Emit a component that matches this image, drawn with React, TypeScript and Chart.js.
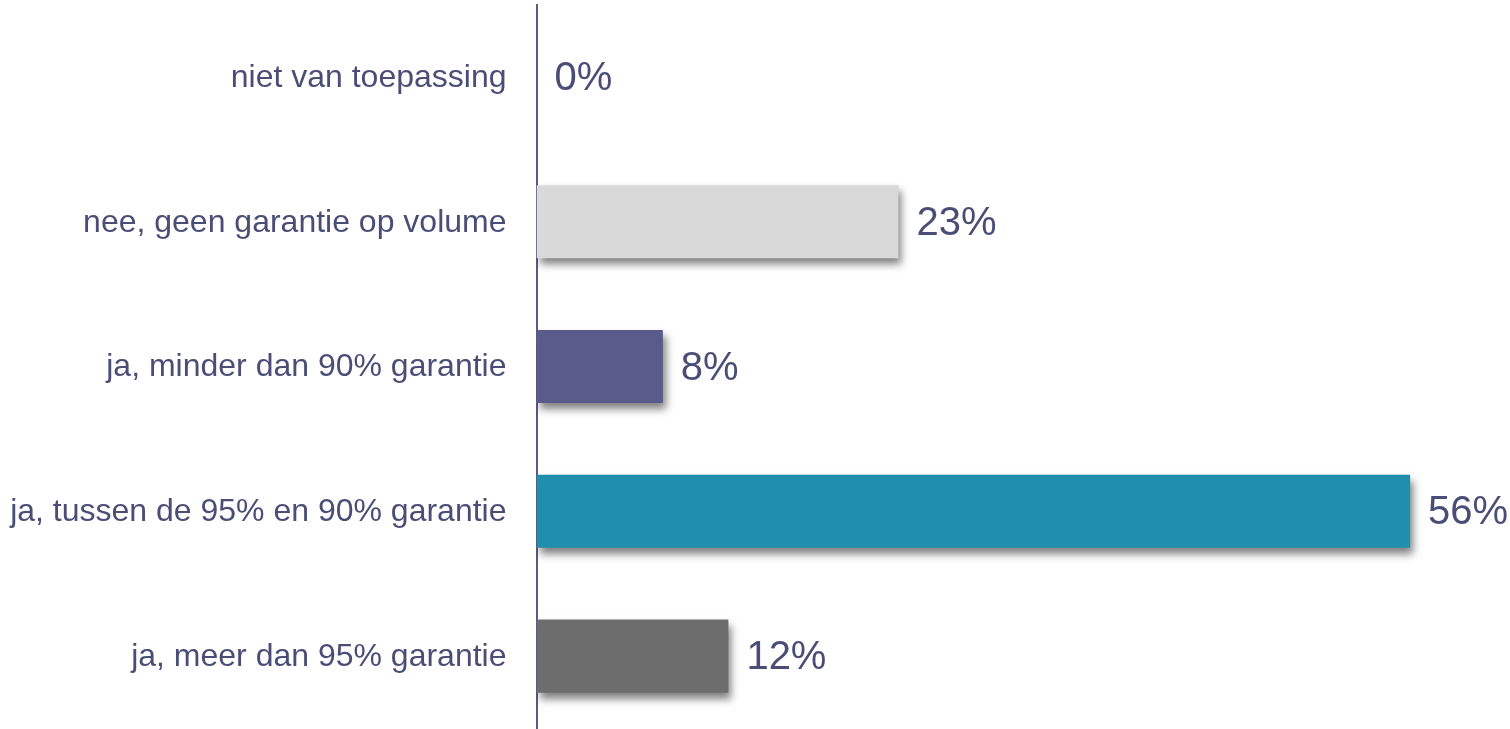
import React, { useEffect, useRef } from "react";
import { Chart, registerables } from "chart.js";

Chart.register(...registerables);

const categories = [
  "niet van toepassing",
  "nee, geen garantie op volume",
  "ja, minder dan 90% garantie",
  "ja, tussen de 95% en 90% garantie",
  "ja, meer dan 95% garantie",
];
const values = [0, 23.2, 8.1, 56.0, 12.3];
const barColors = ["#D9D9D9", "#D9D9D9", "#5B5B8B", "#1F8FAD", "#6D6D6D"];
const textColor = "#4A4D76";
const fontFamily = "'Liberation Sans', Arial, sans-serif";

const shadowPlugin = {
  id: "barShadow",
  beforeDatasetsDraw(chart: any) {
    const ctx = chart.ctx;
    ctx.save();
    ctx.shadowColor = "rgba(0,0,0,0.5)";
    ctx.shadowBlur = 8;
    ctx.shadowOffsetX = 3;
    ctx.shadowOffsetY = 6;
  },
  afterDatasetsDraw(chart: any) {
    chart.ctx.restore();
  },
};

const labelPlugin = {
  id: "labels",
  afterDraw(chart: any) {
    const ctx = chart.ctx;
    const yScale = chart.scales.y;
    const meta = chart.getDatasetMeta(0);
    ctx.save();
    ctx.fillStyle = textColor;
    ctx.textBaseline = "middle";
    // category labels
    ctx.font = `32px ${fontFamily}`;
    ctx.textAlign = "right";
    categories.forEach((c, i) => {
      ctx.fillText(c, yScale.right - 30, yScale.getPixelForTick(i) + 1);
    });
    // value labels
    ctx.font = `40px ${fontFamily}`;
    ctx.textAlign = "left";
    meta.data.forEach((bar: any, i: number) => {
      ctx.fillText(`${Math.round(values[i])}%`, bar.x + 18, bar.y + 2);
    });
    ctx.restore();
  },
};

export default function App() {
  const ref = useRef<HTMLCanvasElement | null>(null);
  useEffect(() => {
    if (!ref.current) return;
    const chart = new Chart(ref.current, {
      type: "bar",
      data: {
        labels: categories,
        datasets: [
          {
            data: values,
            backgroundColor: barColors,
            borderWidth: 0,
            categoryPercentage: 1,
            barPercentage: 0.505,
          },
        ],
      },
      options: {
        indexAxis: "y",
        animation: false,
        responsive: false,
        maintainAspectRatio: false,
        layout: { padding: { top: 4.5, bottom: 0.5, left: 0, right: 37.5 } },
        plugins: {
          legend: { display: false },
          tooltip: { enabled: false },
        },
        scales: {
          x: {
            display: false,
            min: 0,
            max: 60,
          },
          y: {
            grid: { display: false },
            border: { display: true, color: "#5A5B82", width: 2 },
            ticks: { display: false },
            afterFit(scale: any) {
              scale.width = 536.5;
            },
          },
        },
      },
      plugins: [shadowPlugin, labelPlugin],
    });
    return () => chart.destroy();
  }, []);
  return (
    <div style={{ position: "fixed", left: 0, top: 0, width: 1510, height: 729, background: "#fff" }}>
      <canvas ref={ref} width={1510} height={729} style={{ display: "block" }} />
    </div>
  );
}
